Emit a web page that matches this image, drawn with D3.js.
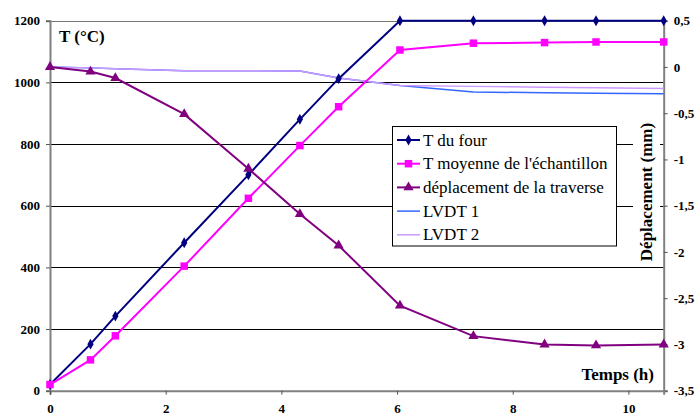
<!DOCTYPE html>
<html>
<head>
<meta charset="utf-8">
<script src="https://cdn.jsdelivr.net/npm/d3@7"></script>
<style>
  body { margin: 0; background: #fff; }
  svg text { font-family: "Liberation Serif", "Times New Roman", Times, "DejaVu Serif", serif; }
</style>
</head>
<body>
<div id="chart"></div>
<script>
// données
const temps = [0, 0.70, 1.13, 2.32, 3.43, 4.32, 4.99, 6.05, 7.32, 8.55, 9.44, 10.61];
const tFour = [20, 151, 242, 480, 700, 880, 1012, 1200, 1200, 1200, 1200, 1200];
const tMoyenne = [20, 100, 178, 404, 624, 795, 921, 1105, 1127, 1129, 1131, 1131];
const deplacement = [0, -0.05, -0.12, -0.51, -1.10, -1.59, -1.93, -2.58, -2.91, -3.0, -3.01, -3.0];
const lvdt1 = [0, -0.01, -0.02, -0.04, -0.04, -0.045, -0.12, -0.2, -0.27, -0.28, -0.285, -0.29];
const lvdt2 = [0, -0.01, -0.02, -0.04, -0.04, -0.045, -0.12, -0.2, -0.21, -0.22, -0.225, -0.234];

const xTicks = [0, 2, 4, 6, 8, 10];
const yLeftTicks = [0, 200, 400, 600, 800, 1000, 1200];
const yRightTicks = [-3.5, -3, -2.5, -2, -1.5, -1, -0.5, 0, 0.5];

const W = 696, H = 416;
const plot = { left: 50, right: 663.7, top: 20.7, bottom: 390.7 };
const FONT = "'Liberation Serif', 'Times New Roman', Times, serif";

const svg = d3.select("#chart").append("svg")
  .attr("width", W).attr("height", H);

const x = d3.scaleLinear().domain([0, 10.61]).range([plot.left, plot.right]);
const yL = d3.scaleLinear().domain([0, 1200]).range([plot.bottom, plot.top]);
const yR = d3.scaleLinear().domain([-3.5, 0.5]).range([plot.bottom, plot.top]);

const frLocale = d3.formatLocale({ decimal: ",", thousands: "", grouping: [3], currency: ["", "€"], minus: "-" });
const fmtR = frLocale.format("~g");

// grille horizontale
svg.append("g")
  .selectAll("line")
  .data(yLeftTicks.filter(d => d > 0))
  .join("line")
  .attr("x1", plot.left).attr("x2", plot.right)
  .attr("y1", d => Math.round(yL(d)) + 0.5).attr("y2", d => Math.round(yL(d)) + 0.5)
  .attr("stroke", d => d === 1200 ? "#777" : "#000")
  .attr("stroke-width", 1);

// axe gauche
const axL = svg.append("g")
  .attr("transform", `translate(${plot.left},0)`)
  .call(d3.axisLeft(yL).tickValues(yLeftTicks).tickSize(4).tickPadding(6).tickFormat(d3.format("d")));
// axe droit
const axR = svg.append("g")
  .attr("transform", `translate(${plot.right},0)`)
  .call(d3.axisRight(yR).tickValues(yRightTicks).tickSize(4).tickPadding(6).tickFormat(fmtR));
// axe bas
const axB = svg.append("g")
  .attr("transform", `translate(0,${plot.bottom})`)
  .call(d3.axisBottom(x).tickValues(xTicks).tickSize(4).tickPadding(11).tickFormat(d3.format("d")));

[axL, axR, axB].forEach(g => {
  g.attr("font-family", null).attr("font-size", null);
  g.select(".domain").attr("stroke", "#808080").attr("stroke-width", 2);
  g.selectAll(".tick line").attr("stroke", "#555");
  g.selectAll(".tick text")
    .attr("fill", "#000")
    .style("font-family", FONT)
    .style("font-size", "13px")
    .style("font-weight", "bold");
});
axB.selectAll(".tick text").attr("dy", "0.55em");

// titres d'axes
svg.append("text")
  .attr("x", 59).attr("y", 42)
  .style("font-family", FONT)
  .style("font-size", "17px").style("font-weight", "bold")
  .text("T (°C)");

svg.append("text")
  .attr("x", 654).attr("y", 380)
  .attr("text-anchor", "end")
  .style("font-family", FONT)
  .style("font-size", "17px").style("font-weight", "bold")
  .text("Temps (h)");

svg.append("rect")
  .attr("x", 633).attr("y", 118).attr("width", 27).attr("height", 147)
  .attr("fill", "#fff");
svg.append("text")
  .attr("transform", "translate(652,192) rotate(-90)")
  .attr("text-anchor", "middle")
  .style("font-family", FONT)
  .style("font-size", "17px").style("font-weight", "bold")
  .text("Déplacement (mm)");

// séries
const series = [
  { name: "T du four", vals: tFour, y: yL, color: "#000080", width: 2, marker: "diamond" },
  { name: "T moyenne de l'échantillon", vals: tMoyenne, y: yL, color: "#FF00FF", width: 2, marker: "square" },
  { name: "déplacement de la traverse", vals: deplacement, y: yR, color: "#800080", width: 2, marker: "triangle" },
  { name: "LVDT 1", vals: lvdt1, y: yR, color: "#3366FF", width: 1.5, marker: null },
  { name: "LVDT 2", vals: lvdt2, y: yR, color: "#CC99FF", width: 1.5, marker: null }
];

const symbols = {
  diamond: d3.symbol().type(d3.symbolDiamond).size(34),
  square: d3.symbol().type(d3.symbolSquare).size(56),
  triangle: d3.symbol().type(d3.symbolTriangle).size(45)
};

const drawOrder = [3, 4, 0, 1, 2];
drawOrder.forEach(i => {
  const s = series[i];
  const line = d3.line().x((d, j) => x(temps[j])).y(d => s.y(d));
  svg.append("path")
    .datum(s.vals)
    .attr("d", line)
    .attr("fill", "none")
    .attr("stroke", s.color)
    .attr("stroke-width", s.width);
  if (s.marker) {
    svg.append("g").selectAll("path")
      .data(s.vals)
      .join("path")
      .attr("d", symbols[s.marker])
      .attr("transform", (d, j) => `translate(${x(temps[j])},${s.y(d)})`)
      .attr("fill", s.color);
  }
});

// légende
const leg = svg.append("g");
leg.append("rect")
  .attr("x", 392.5).attr("y", 126.5).attr("width", 224).attr("height", 119.5)
  .attr("fill", "#fff").attr("stroke", "#000").attr("stroke-width", 1);

const items = leg.selectAll("g.item")
  .data(series)
  .join("g")
  .attr("class", "item")
  .attr("transform", (d, i) => `translate(0,${140 + i * 23.7})`);
items.append("line")
  .attr("x1", 397).attr("x2", 420)
  .attr("stroke", d => d.color)
  .attr("stroke-width", d => d.width);
items.filter(d => d.marker)
  .append("path")
  .attr("d", d => symbols[d.marker]())
  .attr("transform", "translate(408.5,0)")
  .attr("fill", d => d.color);
items.append("text")
  .attr("x", 423).attr("y", 5.5)
  .style("font-family", FONT)
  .style("font-size", "17px")
  .text(d => d.name);
</script>
</body>
</html>
